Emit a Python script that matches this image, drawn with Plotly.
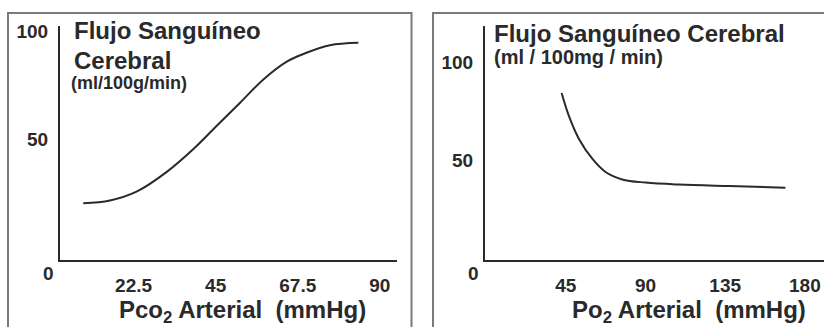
import plotly.graph_objects as go

# ---- data ----
pco2_x = [8.7, 16.0, 23.3, 31.6, 38.9, 45.3, 51.7, 58.0, 64.5, 69.9, 76.3, 84.1]
pco2_flow = [20.3, 21.6, 25.7, 34.9, 45.5, 56.3, 67.0, 77.7, 86.1, 90.2, 93.7, 94.8]

po2_x = [42.6, 46.7, 52.4, 59.9, 67.4, 76.8, 90.0, 108.8, 137.0, 169.0]
po2_flow = [84.3, 72.6, 60.8, 50.7, 43.9, 40.1, 38.5, 37.5, 36.7, 35.9]

left_xticks = [22.5, 45, 67.5, 90]
left_xticktext = ["22.5", "45", "67.5", "90"]
right_xticks = [45, 90, 135, 180]
right_xticktext = ["45", "90", "135", "180"]
yticks = [50, 100]
yticktext = ["50", "100"]

W, H = 824, 327
INK = "#2a2a2a"
BORDER = "#7a7a7a"
FONT = "Liberation Sans, Arial, Helvetica, sans-serif"


def px(x):
    return x / W


def py(y):
    return 1 - y / H


fig = go.Figure()
fig.add_trace(go.Scatter(x=pco2_x, y=pco2_flow, mode="lines", line=dict(color=INK, width=2, shape="spline"),
                         xaxis="x", yaxis="y", showlegend=False, hoverinfo="skip"))
fig.add_trace(go.Scatter(x=po2_x, y=po2_flow, mode="lines", line=dict(color=INK, width=2, shape="spline"),
                         xaxis="x2", yaxis="y2", showlegend=False, hoverinfo="skip"))

tickfont = dict(family=FONT, size=19, color=INK, weight="bold")
common_x = dict(showline=True, linecolor=INK, linewidth=2, showgrid=False, zeroline=False, ticks="",
                tickfont=tickfont, ticklabelstandoff=7, fixedrange=True)
common_y = dict(showline=True, linecolor=INK, linewidth=2, showgrid=False, zeroline=False, ticks="",
                tickfont=tickfont, ticklabelstandoff=6, fixedrange=True, tickvals=yticks, ticktext=yticktext)

fig.update_layout(
    width=W, height=H,
    margin=dict(l=0, r=0, t=0, b=0),
    paper_bgcolor="white", plot_bgcolor="white",
    xaxis=dict(domain=[px(60), px(397)], range=[2.33, 94.7], anchor="y",
               tickvals=left_xticks, ticktext=left_xticktext, **common_x),
    yaxis=dict(domain=[py(259), py(22)], range=[-5.96, 102.75], anchor="x", **common_y),
    xaxis2=dict(domain=[px(485), 1.0], range=[-0.68, 190.8], anchor="y2",
                tickvals=right_xticks, ticktext=right_xticktext, **common_x),
    yaxis2=dict(domain=[py(259), py(22)], range=[-1.0, 118.7], anchor="x2", **common_y),
    shapes=[
        # panel frames
        dict(type="path", xref="paper", yref="paper",
             path=f"M {px(8)} -0.1 L {px(8)} {py(9)} L {px(411.5)} {py(9)} L {px(411.5)} -0.1",
             line=dict(color=BORDER, width=2)),
        dict(type="path", xref="paper", yref="paper",
             path=f"M {px(433)} -0.1 L {px(433)} {py(9)} L 1.1 {py(9)}",
             line=dict(color=BORDER, width=2)),
    ],
)

title_font = dict(family=FONT, size=24, color=INK, weight="bold")
unit_font_l = dict(family=FONT, size=18, color=INK, weight="bold")
unit_font_r = dict(family=FONT, size=20, color=INK, weight="bold")
axis_title_font = dict(family=FONT, size=24, color=INK, weight="bold")

annos = [
    dict(text="Flujo Sanguíneo", x=px(72), y=py(27), font=title_font, xanchor="left"),
    dict(text="Cerebral", x=px(72), y=py(57), font=title_font, xanchor="left"),
    dict(text="(ml/100g/min)", x=px(69), y=py(80), font=unit_font_l, xanchor="left"),
    dict(text="Flujo Sanguíneo Cerebral", x=px(492), y=py(30), font=title_font, xanchor="left"),
    dict(text="(ml / 100mg / min)", x=px(492), y=py(54), font=unit_font_r, xanchor="left"),
    dict(text="0", x=px(48), y=py(273), font=tickfont, xanchor="center"),
    dict(text="0", x=px(473), y=py(273), font=tickfont, xanchor="center"),
    dict(text="Pco<sub>2</sub> Arterial\u00a0\u00a0(mmHg)", x=px(243), y=py(311), font=axis_title_font, xanchor="center"),
    dict(text="Po<sub>2</sub> Arterial\u00a0\u00a0(mmHg)", x=px(689), y=py(311), font=axis_title_font, xanchor="center"),
]
for a in annos:
    fig.add_annotation(xref="paper", yref="paper", yanchor="middle", showarrow=False, **a)

fig.write_html(
    "out.html",
    config={"displayModeBar": False},
    post_script="document.body.style.margin='0';document.body.style.overflow='hidden';",
)
